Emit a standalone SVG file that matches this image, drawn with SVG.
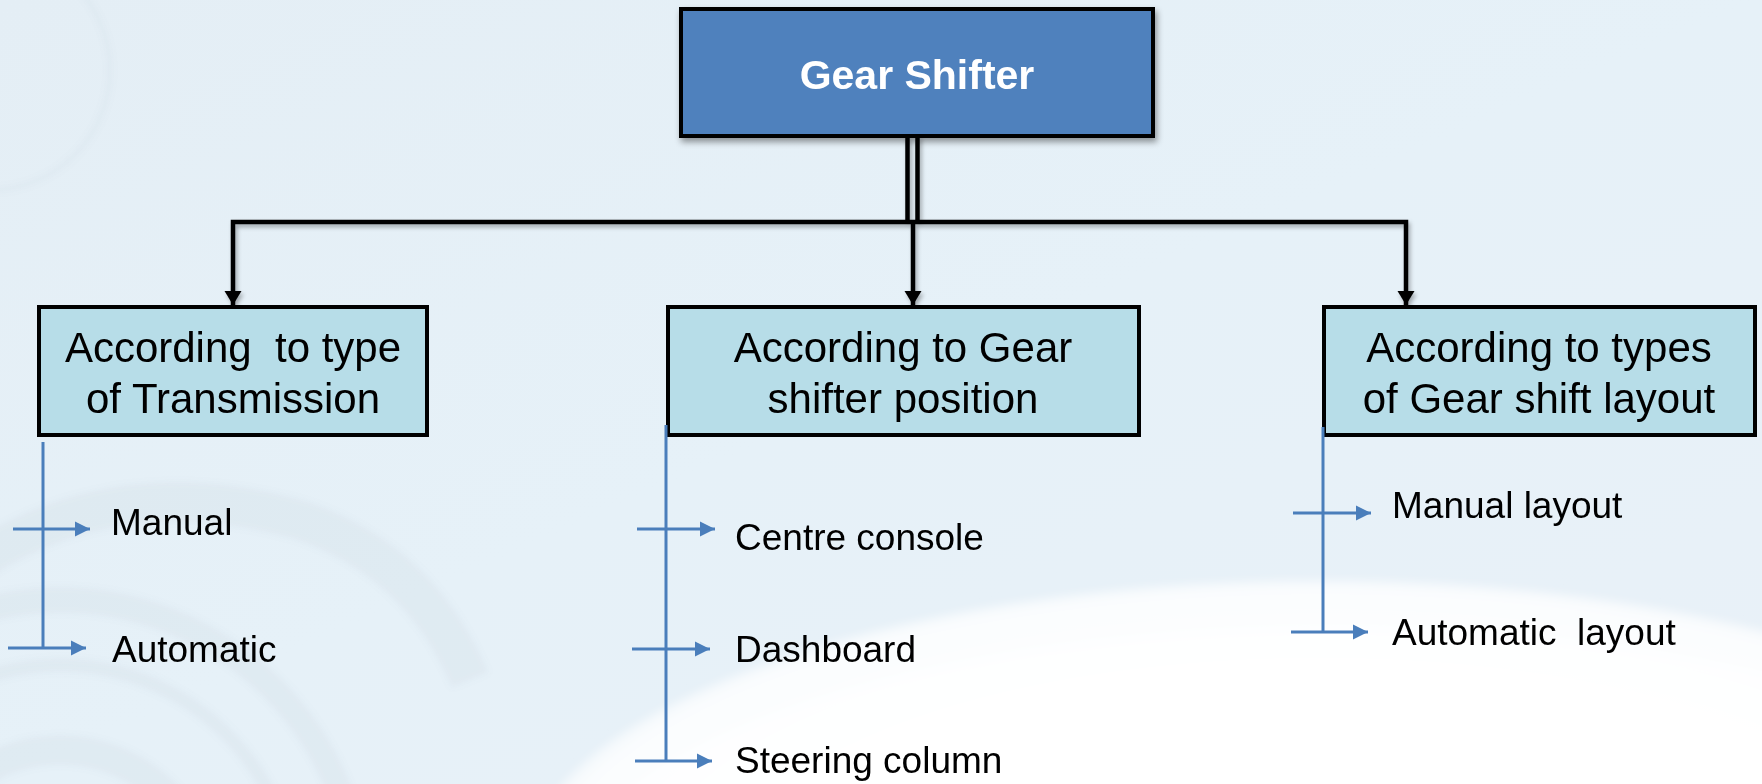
<svg xmlns="http://www.w3.org/2000/svg" width="1762" height="784" viewBox="0 0 1762 784">
  <defs>
    <linearGradient id="bg" x1="0" y1="0" x2="1" y2="1">
      <stop offset="0" stop-color="#e4eef5"/>
      <stop offset="0.5" stop-color="#e6f1f8"/>
      <stop offset="1" stop-color="#e9f1f8"/>
    </linearGradient>
    <radialGradient id="swoosh" cx="0.5" cy="0.5" r="0.5">
      <stop offset="0.7" stop-color="#ffffff" stop-opacity="0.95"/>
      <stop offset="0.97" stop-color="#ffffff" stop-opacity="0.8"/>
      <stop offset="1" stop-color="#ffffff" stop-opacity="0.5"/>
    </radialGradient>
    <filter id="soft" x="-10%" y="-10%" width="120%" height="120%">
      <feGaussianBlur stdDeviation="5"/>
    </filter>
    <filter id="haze" x="-20%" y="-20%" width="140%" height="140%">
      <feGaussianBlur stdDeviation="3"/>
    </filter>
    <filter id="shadow" x="-10%" y="-10%" width="125%" height="130%">
      <feDropShadow dx="2" dy="4" stdDeviation="3" flood-color="#000000" flood-opacity="0.4"/>
    </filter>
    <filter id="lineShadow" x="-5%" y="-5%" width="110%" height="120%">
      <feDropShadow dx="2" dy="3" stdDeviation="2" flood-color="#000000" flood-opacity="0.3"/>
    </filter>
    <marker id="blackHead" markerUnits="userSpaceOnUse" markerWidth="18" markerHeight="18" viewBox="0 0 18 18" refX="14" refY="9" orient="auto">
      <path d="M0,0.5 L14,9 L0,17.5 Z" fill="#000000"/>
    </marker>
    <marker id="blueHead" markerUnits="userSpaceOnUse" markerWidth="16" markerHeight="16" viewBox="0 0 16 16" refX="15" refY="8" orient="auto">
      <path d="M0,0.5 L15,8 L0,15.5 Z" fill="#4a7ebb"/>
    </marker>
  </defs>
  <style>
    .root { fill: #4f81bd; stroke: #000000; stroke-width: 4; }
    .group { fill: #b7dde8; stroke: #000000; stroke-width: 4; }
    .rootText { font-family: "Liberation Sans", Arial, sans-serif; font-size: 41px; font-weight: bold; fill: #ffffff; text-anchor: middle; }
    .groupText { font-family: "Liberation Sans", Arial, sans-serif; font-size: 42px; fill: #000000; text-anchor: middle; }
    .leafText { font-family: "Liberation Sans", Arial, sans-serif; font-size: 37px; fill: #000000; }
    .trunk { fill: none; stroke: #000000; stroke-width: 4.5; }
    .branch { fill: none; stroke: #000000; stroke-width: 4.5; marker-end: url(#blackHead); }
    .spine { fill: none; stroke: #4a7ebb; stroke-width: 3; }
    .leaf { fill: none; stroke: #4a7ebb; stroke-width: 3; marker-end: url(#blueHead); }
    .gear { fill: none; stroke: #8c9aa6; opacity: 0.07; }
  </style>

  <!-- backdrop -->
  <g id="background">
    <rect x="0" y="0" width="1762" height="784" fill="url(#bg)"/>
    <g filter="url(#haze)">
      <circle class="gear" cx="-10" cy="70" r="120" stroke-width="4"/>
      <circle class="gear" cx="60" cy="900" r="300" stroke-width="26"/>
      <circle class="gear" cx="60" cy="900" r="235" stroke-width="14"/>
      <circle class="gear" cx="60" cy="900" r="150" stroke-width="30"/>
      <path class="gear" d="M-20,560 Q120,470 300,520 Q420,560 470,680" stroke-width="40"/>
    </g>
    <ellipse cx="1320" cy="880" rx="800" ry="300" fill="url(#swoosh)" filter="url(#soft)"/>
    <ellipse cx="1340" cy="900" rx="780" ry="270" fill="#ffffff" opacity="0.5" filter="url(#soft)"/>
  </g>

  <!-- black tree connectors -->
  <g id="connectors" filter="url(#lineShadow)">
    <path class="trunk" d="M907.5,136 V222"/>
    <path class="trunk" d="M917.5,136 V222"/>
    <path class="branch" d="M913,222 H233 V305"/>
    <path class="branch" d="M913,222 V305"/>
    <path class="branch" d="M913,222 H1406 V305"/>
  </g>

  <g id="node-gear-shifter">
    <rect class="root" x="681" y="9" width="472" height="127" filter="url(#shadow)"/>
    <text class="rootText" x="917" y="89">Gear Shifter</text>
  </g>

  <g id="node-transmission">
    <rect class="group" x="39" y="307" width="388" height="128"/>
    <text class="groupText" x="233" y="362" xml:space="preserve">According  to type</text>
    <text class="groupText" x="233" y="413">of Transmission</text>
  </g>

  <g id="node-position">
    <rect class="group" x="668" y="307" width="471" height="128"/>
    <text class="groupText" x="903" y="362">According to Gear</text>
    <text class="groupText" x="903" y="413">shifter position</text>
  </g>

  <g id="node-layout">
    <rect class="group" x="1324" y="307" width="431" height="128"/>
    <text class="groupText" x="1539" y="362">According to types</text>
    <text class="groupText" x="1539" y="413">of Gear shift layout</text>
  </g>

  <!-- blue sub-item connectors -->
  <g id="sub-connectors">
    <path class="spine" d="M43,442 V648"/>
    <path class="leaf" d="M13,529 H90"/>
    <path class="leaf" d="M8,648 H86"/>

    <path class="spine" d="M666,425 V761"/>
    <path class="leaf" d="M637,529 H715"/>
    <path class="leaf" d="M632,649 H710"/>
    <path class="leaf" d="M635,761 H712"/>

    <path class="spine" d="M1323,427 V632"/>
    <path class="leaf" d="M1293,513 H1371"/>
    <path class="leaf" d="M1291,632 H1368"/>
  </g>

  <g id="node-manual"><text class="leafText" x="111" y="535">Manual</text></g>
  <g id="node-automatic"><text class="leafText" x="112" y="662">Automatic</text></g>
  <g id="node-centre-console"><text class="leafText" x="735" y="550">Centre console</text></g>
  <g id="node-dashboard"><text class="leafText" x="735" y="662">Dashboard</text></g>
  <g id="node-steering-column"><text class="leafText" x="735" y="773">Steering column</text></g>
  <g id="node-manual-layout"><text class="leafText" x="1392" y="518">Manual layout</text></g>
  <g id="node-automatic-layout"><text class="leafText" x="1392" y="645" xml:space="preserve">Automatic  layout</text></g>
</svg>
